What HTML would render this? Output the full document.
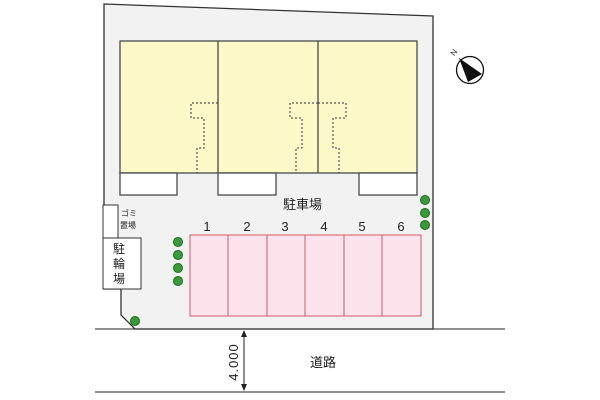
<!DOCTYPE html><html><head><meta charset="utf-8"><style>body{margin:0;background:#fff}svg{display:block}text{font-family:"Liberation Sans","Noto Sans CJK JP",sans-serif;fill:#222}</style></head><body>
<svg width="600" height="400" viewBox="0 0 600 400">
<polygon points="104,4 433,16 433,329 135,329 121,315 121,289 104,289" fill="#f2f2f2" stroke="#333" stroke-width="1.3"/>
<g stroke="#555" stroke-width="1.4">
<rect x="120" y="41" width="297" height="132" fill="#fdf8c8"/>
<line x1="218" y1="41" x2="218" y2="173"/><line x1="318" y1="41" x2="318" y2="173"/>
<rect x="120" y="173" width="57" height="22" fill="#fff"/>
<rect x="218" y="173" width="58" height="22" fill="#fff"/>
<rect x="359" y="173" width="58" height="22" fill="#fff"/>
</g>
<g fill="none" stroke="#333" stroke-width="1" stroke-dasharray="2,2">
<polyline points="218,103 191,103 191,118 204,118 204,148 197,148 197,173"/>
<polyline points="318,103 290,103 290,118 302,118 302,148 296,148 296,173"/>
<polyline points="318,103 346,103 346,118 333,118 333,148 339,148 339,173"/>
</g>
<rect x="103" y="205" width="15" height="33" fill="#fff" stroke="#333"/>
<text x="121" y="216" font-size="8">ゴミ</text><text x="120" y="228" font-size="8">置場</text>
<rect x="103" y="238" width="38" height="51" fill="#fff" stroke="#333"/>
<text x="113" y="253" font-size="12">駐</text><text x="113" y="268" font-size="12">輪</text><text x="113" y="283" font-size="12">場</text>
<text x="283" y="209" font-size="13">駐車場</text>
<g fill="#fde3ec" stroke="#d45a6a" stroke-width="1">
<rect x="190" y="235" width="38" height="81"/><rect x="228" y="235" width="39" height="81"/><rect x="267" y="235" width="38" height="81"/><rect x="305" y="235" width="39" height="81"/><rect x="344" y="235" width="38" height="81"/><rect x="382" y="235" width="39" height="81"/>
</g>
<g font-size="13" text-anchor="middle"><text x="207" y="231">1</text><text x="247" y="231">2</text><text x="285" y="231">3</text><text x="324" y="231">4</text><text x="362" y="231">5</text><text x="401" y="231">6</text></g>
<g fill="#3a9a3a" stroke="#1d6b1d" stroke-width="1">
<circle cx="178" cy="242" r="4.5"/><circle cx="178" cy="255" r="4.5"/><circle cx="178" cy="268" r="4.5"/><circle cx="178" cy="281" r="4.5"/>
<circle cx="425" cy="200" r="4.5"/><circle cx="425" cy="213" r="4.5"/><circle cx="425" cy="225" r="4.5"/>
<circle cx="135" cy="321" r="4.5"/>
</g>
<line x1="95" y1="329" x2="505" y2="329" stroke="#222"/>
<line x1="95" y1="392" x2="505" y2="392" stroke="#222"/>
<line x1="244" y1="333" x2="244" y2="388" stroke="#222"/>
<polygon points="244,330 241,337 247,337" fill="#222"/><polygon points="244,391 241,384 247,384" fill="#222"/>
<text transform="translate(238,362) rotate(-90)" font-size="13" text-anchor="middle" letter-spacing="1">4.000</text>
<text x="323" y="367" font-size="13" text-anchor="middle">道路</text>
<circle cx="470" cy="70" r="13.5" fill="#fff" stroke="#111" stroke-width="1.3"/>
<polygon points="459,58 482,74 468,82" fill="#111"/>
<text transform="translate(456,54) rotate(-55)" font-size="8" text-anchor="middle">N</text>
</svg></body></html>
